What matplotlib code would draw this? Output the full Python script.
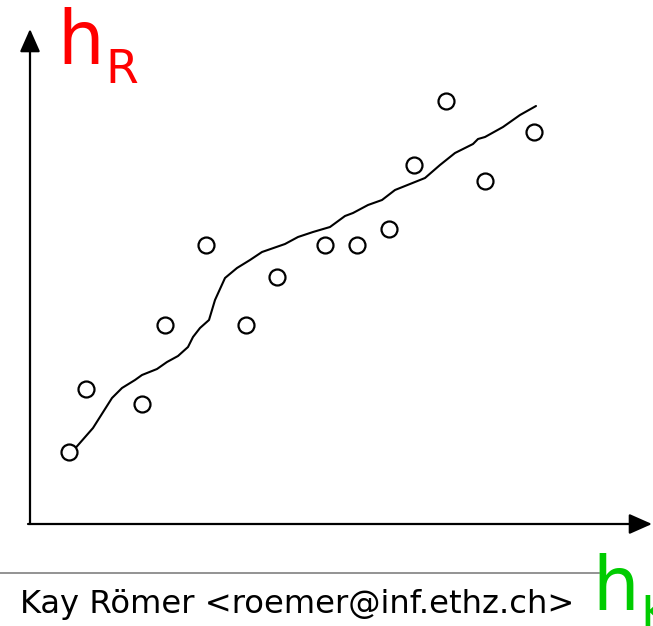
import matplotlib
matplotlib.use("Agg")
import matplotlib.pyplot as plt

# measured points (origin at the axes corner, y up)
pts_x = [39, 56, 112, 135, 176, 216, 247, 295, 327, 359, 384, 416, 455, 504]
pts_y = [72, 135, 120, 199, 279, 199, 247, 279, 279, 295, 359, 423, 343, 392]

# hand drawn smoothing curve
curve_x = [42, 63, 82, 92, 105, 112, 127, 137, 148, 158, 163, 170, 179, 185, 195,
           207, 220, 232, 255, 268, 283, 300, 315, 323, 338, 352, 365, 395, 410,
           425, 443, 448, 455, 473, 490, 506]
curve_y = [72, 96, 126, 136, 144, 149, 155, 162, 168, 177, 187, 196, 204, 224, 246,
           256, 264, 272, 280, 287, 292, 297, 308, 311, 319, 324, 334, 346, 359,
           371, 380, 385, 387, 397, 409, 418]

W, H = 653, 626
fig = plt.figure(figsize=(W / 100, H / 100), dpi=100)
ax = fig.add_axes([0, 0, 1, 1])
ax.set_xlim(-30, W - 30)
ax.set_ylim(524 - H, 524)
ax.axis("off")


def px(x, y):
    # pixel position -> figure fraction
    return x / W, 1 - y / H


# axes arrows
arrow = dict(arrowstyle="-|>,head_length=14,head_width=6.2", mutation_scale=1,
             color="black", lw=1.6, shrinkA=0, shrinkB=0)
ax.annotate("", xy=(0, 495), xytext=(0, 0), arrowprops=arrow)
ax.annotate("", xy=(622, 0), xytext=(-2, 0), arrowprops=arrow)

ax.plot(curve_x, curve_y, color="black", lw=1.5, solid_capstyle="round")
ax.plot(pts_x, pts_y, "o", ms=11.5, mfc="white", mec="black", mew=1.6)

# axis labels
fig.text(*px(57.5, 64), "h", color="#ff0000", fontsize=53, va="baseline", ha="left")
fig.text(*px(105.5, 82.7), "R", color="#ff0000", fontsize=34, va="baseline", ha="left")
fig.text(*px(592, 610), "h", color="#00cc00", fontsize=53, va="baseline", ha="left")
fig.text(*px(640.5, 628.7), "K", color="#00cc00", fontsize=34, va="baseline", ha="left")

# footer
fig.add_artist(plt.Line2D([0, 599 / W], [1 - 572.7 / H] * 2, color="#808080", lw=1.2))
fig.text(*px(20, 613), "Kay Römer <roemer@inf.ethz.ch>", color="black",
         fontsize=23.2, va="baseline", ha="left")

fig.savefig("out.png", dpi=100)
